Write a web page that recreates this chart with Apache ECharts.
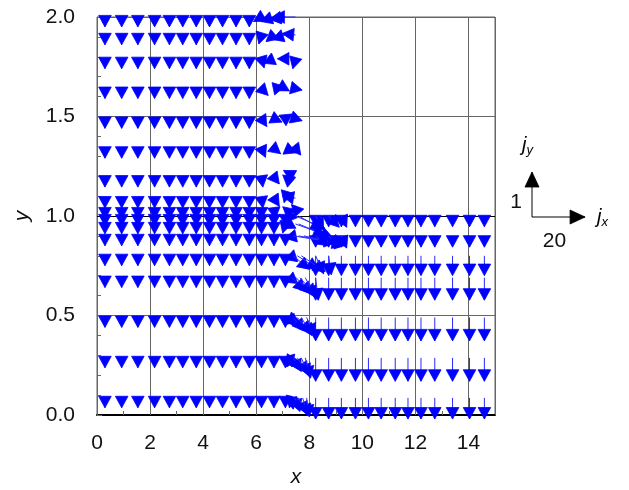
<!DOCTYPE html>
<html>
<head>
<meta charset="utf-8">
<script src="https://cdn.jsdelivr.net/npm/echarts@6/dist/echarts.min.js"></script>
<style>
  html, body { margin: 0; padding: 0; background: #fff; }
  #chart { width: 629px; height: 490px; }
</style>
</head>
<body>
<div id="chart"></div>
<script>
// rows of the mesh (tail y of each arrow)
const upperRows = [2.0, 1.91, 1.79, 1.64, 1.49, 1.34, 1.195, 1.09, 1.035];
const lowerRows = [1.0, 0.96, 0.9, 0.8, 0.69, 0.49, 0.287, 0.086];
const upperJy   = [-0.22, -0.22, -0.22, -0.22, -0.22, -0.22, -0.22, -0.22, -0.22];
const lowerJy   = [-0.22, -0.22, -0.22, -0.22, -0.22, -0.22, -0.22, -0.22];

// columns of the left block (plain downward arrows)
const bulkColsUpper = [0.3, 0.93, 1.54, 2.17, 2.73, 3.23, 3.74, 4.24, 4.73, 5.24, 5.74];
const bulkColsLower = [0.3, 0.93, 1.54, 2.17, 2.73, 3.23, 3.74, 4.24, 4.73, 5.24, 5.74, 6.2, 6.67];

// right block
const rightCols = [8.24, 8.73, 9.21, 9.74, 10.23, 10.71, 11.24, 11.72, 12.21, 12.73, 13.4, 14.04, 14.6];
const rightRows = [1.0, 0.9, 0.8, 0.69, 0.49, 0.287, 0.086];
const rightJy   = [-0.24, -0.25, -0.44, -0.5, -0.52, -0.52, -0.47];

// columns near the re-entrant corner, upper rows: [jx, jy] per column
const cornerCols = [6.2, 6.67, 7.1, 7.48];
const cornerUpper = [
    [[-3, -0.1], [-5, -0.1], [-6, -0.05], [-8.5, 0]],
    [[-1, -0.2], [-3, -0.15], [-5, -0.1], [-5, 0.03]],
    [[1, -0.2], [-4, -0.1], [-3, 0], [-1, -0.22]],
    [[2.5, -0.15], [4, 0.05], [1.5, -0.05], [2.5, -0.03]],
    [[2, -0.18], [3, -0.08], [2.5, 0.1], [2.5, -0.05]],
    [[1.5, -0.2], [2.5, -0.12], [4, -0.1], [2, -0.15]],
    [[0.5, -0.22], [2, -0.15], [-1, 0.05], [-4.5, 0.15]],
    [[0.5, -0.22], [2, -0.18], [-0.5, -0.1], [-5, 0.05]],
    [[0, -0.22], [0.5, -0.22], [-1, 0.05], [-1.5, 0.1]],
];

// corner arrows in the lower rows: [x, y, jx, jy]
const cornerLower = [
    [7.1, 1.0, 0, -0.22], [7.3, 1.0, -2, -0.15], [7.48, 1.0, 11, -0.27], [7.6, 1.0, 9, -0.3],
    [8.24, 1.0, 3, -0.3], [8.73, 1.0, 4, -0.25], [9.21, 1.0, 2, -0.25],
    [7.1, 0.96, -1, -0.2], [7.3, 0.96, -3, -0.1], [7.48, 0.96, 14, -0.3], [7.6, 0.96, 10, -0.25],
    [7.1, 0.9, 0, -0.22], [7.48, 0.9, -4, -0.05], [7.4, 0.9, 16, -0.15], [7.6, 0.9, 18, -0.2],
    [7.8, 0.9, 15, -0.2], [8.24, 0.9, 5, -0.22], [8.73, 0.9, 4, -0.25], [9.21, 0.9, 2, -0.27],
    [7.1, 0.8, 0, -0.22], [7.48, 0.8, -4, -0.08], [7.4, 0.8, 6, -0.3], [7.55, 0.8, 8, -0.3],
    [7.7, 0.8, 9, -0.35], [8.24, 0.8, 3, -0.4], [8.73, 0.8, 1, -0.42],
    [7.1, 0.69, 0, -0.22], [7.48, 0.69, -4, -0.1], [7.35, 0.69, 5, -0.3], [7.5, 0.69, 6, -0.35],
    [7.65, 0.69, 6, -0.4], [7.85, 0.69, 4, -0.45], [8.24, 0.69, 1, -0.5],
    [7.1, 0.49, 0, -0.22], [7.45, 0.49, -3, -0.15], [7.25, 0.49, 2, -0.2], [7.4, 0.49, 4, -0.3],
    [7.55, 0.49, 5, -0.35], [7.7, 0.49, 4, -0.4], [7.9, 0.49, 3, -0.4],
    [7.1, 0.287, 0, -0.22], [7.35, 0.287, -2, -0.2], [7.25, 0.287, 1, -0.2], [7.4, 0.287, 3, -0.3],
    [7.55, 0.287, 4, -0.35], [7.7, 0.287, 3, -0.4], [7.85, 0.287, 2, -0.45],
    [7.1, 0.086, 0, -0.22], [7.35, 0.086, -1, -0.22], [7.3, 0.086, 1, -0.25], [7.45, 0.086, 2, -0.3],
    [7.6, 0.086, 3, -0.35], [7.75, 0.086, 2, -0.4], [7.9, 0.086, 1, -0.42],
];

// key: jx = 20 and jy = 1
const keyJx = 20;
const keyJy = 1;

const JX_SCALE = 0.1;    // x units per unit of jx
const JY_SCALE = 0.226;  // y units per unit of jy
const HEAD_LEN = 11.5;
const HEAD_W = 6.3;
const FONT = '"Liberation Sans", Arial, sans-serif';

const vectors = [];
upperRows.forEach((y, i) => {
    bulkColsUpper.forEach(x => vectors.push([x, y, 0, upperJy[i]]));
    cornerCols.forEach((x, k) => vectors.push([x, y, cornerUpper[i][k][0], cornerUpper[i][k][1]]));
});
lowerRows.forEach((y, i) => {
    bulkColsLower.forEach(x => vectors.push([x, y, 0, lowerJy[i]]));
});
rightRows.forEach((y, i) => {
    rightCols.forEach(x => vectors.push([x, y, 0, rightJy[i]]));
});
cornerLower.forEach(v => vectors.push(v));

function arrowShapes(p0, p1, color, lineColor, headLen, headW) {
    const dx = p1[0] - p0[0], dy = p1[1] - p0[1];
    const len = Math.hypot(dx, dy);
    if (len < 0.5) return [];
    const ux = dx / len, uy = dy / len;
    const bx = p1[0] - ux * headLen, by = p1[1] - uy * headLen;
    return [
        { type: 'line', shape: { x1: p0[0], y1: p0[1], x2: p1[0], y2: p1[1] },
          style: { stroke: lineColor, lineWidth: 1 } },
        { type: 'polygon',
          shape: { points: [p1, [bx - uy * headW, by + ux * headW], [bx + uy * headW, by - ux * headW]] },
          style: { fill: color, stroke: color, lineWidth: 0.8, lineJoin: 'miter' } },
    ];
}

function renderArrow(params, api) {
    const x = api.value(0), y = api.value(1);
    const p0 = api.coord([x, y]);
    const p1 = api.coord([x + api.value(2) * JX_SCALE, y + api.value(3) * JY_SCALE]);
    return { type: 'group', children: arrowShapes(p0, p1, '#0000ff', '#2a2aff', HEAD_LEN, HEAD_W) };
}

const chart = echarts.init(document.getElementById('chart'), null, { renderer: 'canvas' });

// key arrows at a fixed spot right of the plot, same scale as the field
const keyOrigin = [532, 217];
const pxPerJx = 398 / 15 * JX_SCALE;
const pxPerJy = 398 / 2 * JY_SCALE;
const keyUp = [keyOrigin[0], keyOrigin[1] - keyJy * pxPerJy];
const keyRight = [keyOrigin[0] + keyJx * pxPerJx, keyOrigin[1]];

const keyGraphics = [
    ...arrowShapes(keyOrigin, keyUp, '#000', '#000', 15, 7),
    ...arrowShapes(keyOrigin, keyRight, '#000', '#000', 15, 7),
].map(g => Object.assign(g, { silent: true }));

const sub = {
    j: { fontSize: 20, fontStyle: 'italic', fontFamily: FONT, color: '#111', lineHeight: 24 },
    s: { fontSize: 13, fontStyle: 'italic', fontFamily: FONT, color: '#111', lineHeight: 14, verticalAlign: 'bottom' },
};

chart.setOption({
    animation: false,
    backgroundColor: '#fff',
    grid: { left: 97, right: 134, top: 17, bottom: 75, show: true, borderColor: '#666', borderWidth: 1,
            outerBoundsMode: 'none', containLabel: false },
    xAxis: {
        type: 'value', min: 0, max: 15, interval: 2,
        name: 'x', nameLocation: 'middle', nameGap: 52,
        nameTextStyle: { fontSize: 21, fontStyle: 'italic', fontFamily: FONT, color: '#111' },
        axisLine: { lineStyle: { color: '#000', width: 2 } },
        axisTick: { inside: true, length: 5, lineStyle: { color: '#666' } },
        minorTick: { show: true, splitNumber: 2, length: 4, lineStyle: { color: '#666' } },
        splitLine: { show: true, lineStyle: { color: '#666', width: 1 } },
        axisLabel: { fontSize: 21, fontFamily: FONT, color: '#111', margin: 18, showMaxLabel: false },
    },
    yAxis: {
        type: 'value', min: 0, max: 2, interval: 0.5,
        name: 'y', nameLocation: 'middle', nameGap: 64, nameRotate: 90,
        nameTextStyle: { fontSize: 21, fontStyle: 'italic', fontFamily: FONT, color: '#111' },
        axisLine: { lineStyle: { color: '#666', width: 1 } },
        axisTick: { inside: true, length: 5, lineStyle: { color: '#666' } },
        minorTick: { show: true, splitNumber: 5, length: 4, lineStyle: { color: '#666' } },
        splitLine: { show: true, lineStyle: { color: '#666', width: 1 } },
        axisLabel: { fontSize: 21, fontFamily: FONT, color: '#111', margin: 22,
                     formatter: v => v.toFixed(1) },
    },
    series: [{
        type: 'custom',
        renderItem: renderArrow,
        encode: { x: 0, y: 1 },
        data: vectors,
        z: 3,
        markLine: {
            silent: true, symbol: 'none', label: { show: false },
            lineStyle: { color: '#000', width: 1, type: 'solid' },
            data: [{ yAxis: 1 }],
            z: 2,
        },
    }],
    graphic: [
        ...keyGraphics,
        { type: 'text', x: keyOrigin[0] - 10, y: keyOrigin[1] - 15,
          style: { text: String(keyJy), font: '21px ' + FONT, fill: '#111', align: 'right', verticalAlign: 'middle' } },
        { type: 'text', x: (keyOrigin[0] + keyRight[0]) / 2 - 4, y: keyOrigin[1] + 24,
          style: { text: String(keyJx), font: '21px ' + FONT, fill: '#111', align: 'center', verticalAlign: 'middle' } },
        { type: 'text', x: keyOrigin[0] - 10, y: keyOrigin[1] - 72,
          style: { text: '{j|j}{s|y}', rich: sub, verticalAlign: 'middle' } },
        { type: 'text', x: keyRight[0] + 12, y: keyOrigin[1],
          style: { text: '{j|j}{s|x}', rich: sub, verticalAlign: 'middle' } },
    ],
});
</script>
</body>
</html>
